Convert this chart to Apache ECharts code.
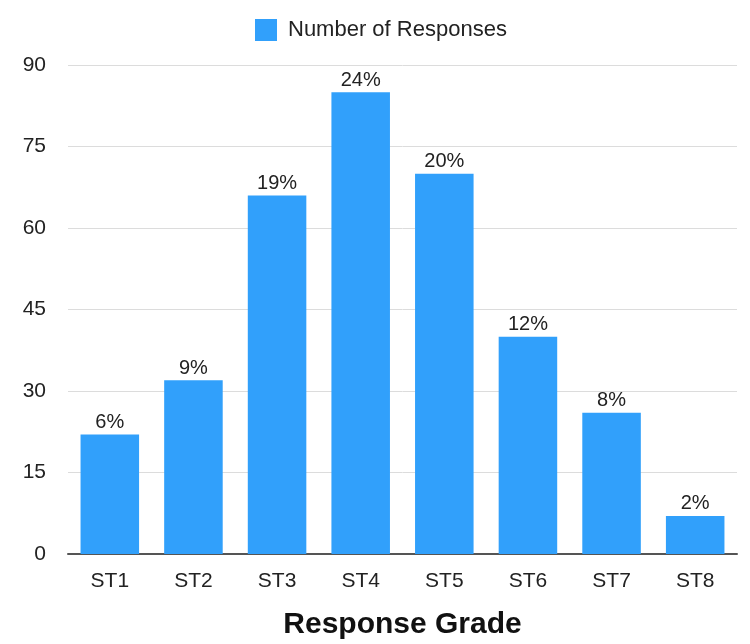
<!DOCTYPE html>
<html>
<head>
<meta charset="utf-8">
<script src="https://cdn.jsdelivr.net/npm/echarts@6/dist/echarts.min.js"></script>
<style>
  html, body { margin: 0; padding: 0; background: #fff; }
</style>
</head>
<body>
<div id="main" style="width: 750px; height: 644px;"></div>
<script>
const categories = ['ST1', 'ST2', 'ST3', 'ST4', 'ST5', 'ST6', 'ST7', 'ST8'];
const responses = [22, 32, 66, 85, 70, 40, 26, 7];
const percentLabels = ['6%', '9%', '19%', '24%', '20%', '12%', '8%', '2%'];
const yTicks = [0, 15, 30, 45, 60, 75, 90];

const font = 'Helvetica, "Liberation Sans", Arial, sans-serif';

let chart = echarts.init(document.getElementById('main'));
let option = {
    textStyle: { fontFamily: font },
    legend: {
        top: 14,
        left: 250,
        itemWidth: 22,
        itemHeight: 22,
        itemGap: 10,
        icon: 'rect',
        textStyle: { fontSize: 22, color: '#222', fontFamily: font, padding: [0, 0, 0, 6] },
        data: ['Number of Responses']
    },
    grid: { left: 68, right: 13, top: 65, bottom: 90, outerBoundsMode: 'none', containLabel: false },
    xAxis: {
        type: 'category',
        data: categories,
        name: 'Response Grade',
        nameLocation: 'middle',
        nameGap: 56,
        nameTextStyle: { fontSize: 30, fontWeight: 'bold', color: '#111', fontFamily: font },
        axisLine: { lineStyle: { color: '#555', width: 2 } },
        axisTick: { show: false },
        axisLabel: { fontSize: 21, color: '#222', margin: 17 }
    },
    yAxis: {
        type: 'value',
        min: yTicks[0],
        max: yTicks[yTicks.length - 1],
        interval: 15,
        axisLine: { show: false },
        axisTick: { show: false },
        axisLabel: { fontSize: 21, color: '#222', margin: 22 },
        splitLine: { lineStyle: { color: '#dcdcdc', width: 1 } }
    },
    series: [{
        name: 'Number of Responses',
        type: 'bar',
        data: responses,
        barCategoryGap: '30%',
        itemStyle: { color: '#31a0fb' },
        label: {
            show: true,
            position: 'top',
            distance: 2,
            fontSize: 20,
            color: '#222',
            formatter: p => percentLabels[p.dataIndex]
        }
    }]
};
option && chart.setOption(option);
</script>
</body>
</html>
